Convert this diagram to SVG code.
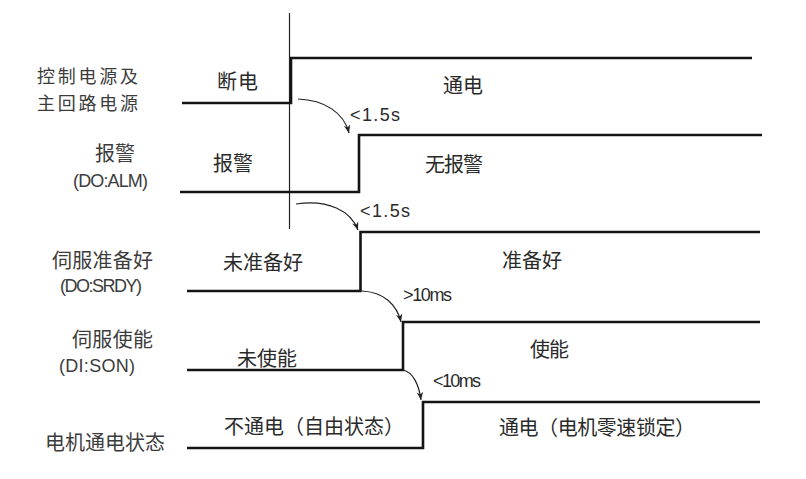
<svg xmlns="http://www.w3.org/2000/svg" width="806" height="479" viewBox="0 0 806 479">
<defs>
<style>
.sig{fill:none;stroke:#141414;stroke-width:2.6;stroke-linejoin:miter}
.thin{fill:none;stroke:#222;stroke-width:1.2}
.arc{fill:none;stroke:#222;stroke-width:1.2}
.cn{font-family:"Noto Sans CJK SC","Noto Sans",sans-serif;font-size:20px;fill:#2a2a2a}
.lb{font-family:"Noto Sans CJK SC","Noto Sans",sans-serif;font-size:20px;fill:#3c3c3c}
.en{font-family:"Liberation Sans","DejaVu Sans",sans-serif;font-size:18px;fill:#2a2a2a}
.code{font-family:"Liberation Sans","DejaVu Sans",sans-serif;font-size:18px;fill:#3c3c3c}
</style>
<marker id="ah" viewBox="0 0 10 10" refX="10" refY="5" markerWidth="10" markerHeight="8" markerUnits="userSpaceOnUse" orient="auto">
<path d="M0,1 L10,5 L0,9 L3,5 Z" fill="#222"/>
</marker>
</defs>
<rect width="806" height="479" fill="#fff"/>

<line class="thin" x1="289.5" y1="13" x2="289.5" y2="229"/>

<g id="power">
<text class="lb" style="font-size:18px" x="37" y="83" textLength="101">控制电源及</text>
<text class="lb" style="font-size:18px" x="37" y="109.5" textLength="101">主回路电源</text>
<path class="sig" d="M182,103 H291 V58 H752"/>
<text class="cn" x="217" y="89" textLength="41">断电</text>
<text class="cn" x="443" y="93" textLength="40">通电</text>
</g>

<g id="alarm">
<text class="lb" x="95" y="161" textLength="40">报警</text>
<text class="code" x="73" y="187" textLength="75">(DO:ALM)</text>
<path class="sig" d="M180,192 H359 V135 H762"/>
<text class="cn" x="213" y="171" textLength="40">报警</text>
<text class="cn" x="425" y="172" textLength="58">无报警</text>
</g>

<g id="ready">
<text class="lb" x="52" y="268" textLength="101">伺服准备好</text>
<text class="code" x="60" y="292" textLength="82">(DO:SRDY)</text>
<path class="sig" d="M187,291 H360.5 V232 H760"/>
<text class="cn" x="223" y="270" textLength="80">未准备好</text>
<text class="cn" x="502" y="268" textLength="60">准备好</text>
</g>

<g id="enable">
<text class="lb" x="72" y="347" textLength="81">伺服使能</text>
<text class="code" x="59" y="372" textLength="76">(DI:SON)</text>
<path class="sig" d="M187,370 H403 V322 H760"/>
<text class="cn" x="237" y="366" textLength="60">未使能</text>
<text class="cn" x="530" y="357" textLength="39">使能</text>
</g>

<g id="motor">
<text class="lb" x="45" y="450" textLength="120">电机通电状态</text>
<path class="sig" d="M187,448 H423 V402 H760"/>
<text class="cn" x="224" y="434" textLength="180">不通电（自由状态）</text>
<text class="cn" x="499" y="435" textLength="196">通电（电机零速锁定）</text>
</g>

<g id="connectors">
<path class="arc" marker-end="url(#ah)" d="M298,99 C325,100 344,113 349,133"/>
<path class="arc" marker-end="url(#ah)" d="M296,204 C328,199 351,211 358,230"/>
<path class="arc" marker-end="url(#ah)" d="M362,291 C384,292 397,305 401,322"/>
<path class="arc" marker-end="url(#ah)" d="M403,370 C413,372 419,385 421,400"/>
<text class="en" x="350" y="121" textLength="50">&lt;1.5s</text>
<text class="en" x="360" y="217" textLength="50">&lt;1.5s</text>
<text class="en" x="403" y="301" textLength="49">&gt;10ms</text>
<text class="en" x="433" y="387" textLength="48">&lt;10ms</text>
</g>
</svg>
